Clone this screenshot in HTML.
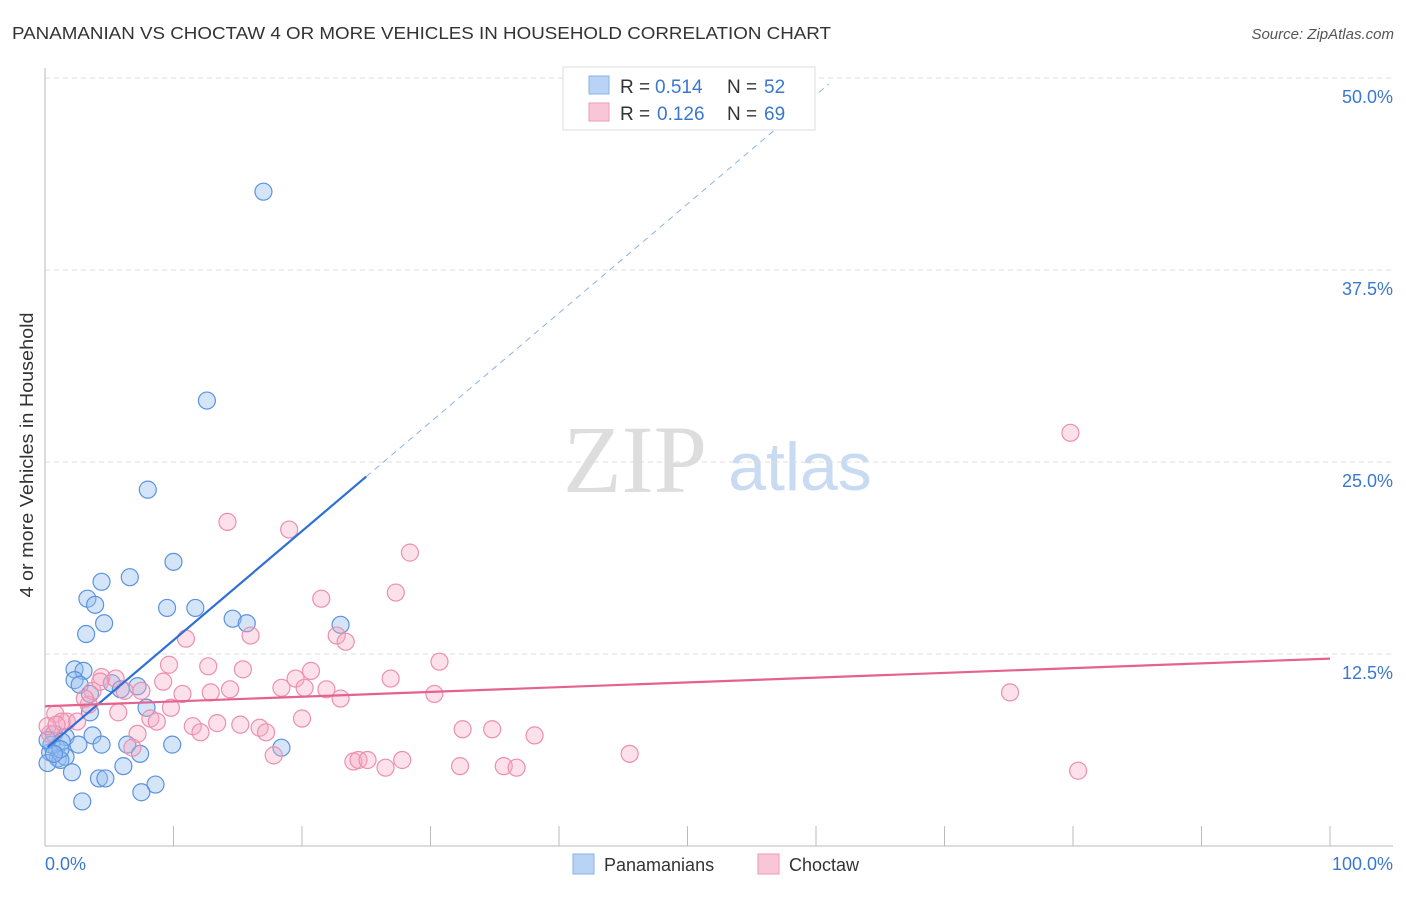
<!DOCTYPE html>
<html><head><meta charset="utf-8"><style>
body{margin:0;background:#fff;font-family:"Liberation Sans",sans-serif}
</style></head><body>
<svg id="c" width="1406" height="892" xmlns="http://www.w3.org/2000/svg" font-family="Liberation Sans, sans-serif">
<text x="12" y="39" font-size="17.5" fill="#333" textLength="819" lengthAdjust="spacingAndGlyphs">PANAMANIAN VS CHOCTAW 4 OR MORE VEHICLES IN HOUSEHOLD CORRELATION CHART</text>
<text x="1394" y="39" font-size="15" fill="#555" font-style="italic" text-anchor="end">Source: ZipAtlas.com</text>
<text x="635" y="492" font-size="96" fill="#ddd" font-family="Liberation Serif, serif" text-anchor="middle">ZIP</text>
<text x="800" y="490" font-size="68" fill="#c9daf3" text-anchor="middle">atlas</text>
<g id="grid"></g><g id="axes"></g><g id="pts"></g><g id="lines"></g>
<text x="33" y="455" font-size="18" fill="#333" text-anchor="middle" textLength="285" lengthAdjust="spacingAndGlyphs" transform="rotate(-90 33 455)">4 or more Vehicles in Household</text>
<text x="45" y="870" font-size="18" fill="#3a78d0">0.0%</text>
<text x="1393" y="870" font-size="18" fill="#3a78d0" text-anchor="end">100.0%</text>
<g>
<rect x="563" y="67" width="252" height="63" fill="#fff" stroke="#ddd"/>
<rect x="589" y="76" width="20" height="18" fill="#b8d3f5" stroke="#8ab2e6"/>
<rect x="589" y="103" width="20" height="18" fill="#f8c6d6" stroke="#ee9ab5"/>
<text x="620" y="93" font-size="19" fill="#333">R =</text><text x="655" y="93" font-size="19" fill="#3a78d0">0.514</text>
<text x="727" y="93" font-size="19" fill="#333">N =</text><text x="764" y="93" font-size="19" fill="#3a78d0">52</text>
<text x="620" y="120" font-size="19" fill="#333">R =</text><text x="657" y="120" font-size="19" fill="#3a78d0">0.126</text>
<text x="727" y="120" font-size="19" fill="#333">N =</text><text x="764" y="120" font-size="19" fill="#3a78d0">69</text>
</g>
<g>
<rect x="573" y="854" width="21" height="20" fill="#b8d3f5" stroke="#8ab2e6"/>
<text x="604" y="871" font-size="18" fill="#333">Panamanians</text>
<rect x="758" y="854" width="21" height="20" fill="#f8c6d6" stroke="#ee9ab5"/>
<text x="789" y="871" font-size="18" fill="#333">Choctaw</text>
</g>
</svg>
<script>
const yTicks=[12.5,25,37.5,50];
const yTickLabels=["12.5%","25.0%","37.5%","50.0%"];
const xTicks=[0,10,20,30,40,50,60,70,80,90,100];
const blueX=[17.0,12.6,8.0,10.0,4.4,6.6,3.3,3.9,9.5,11.7,3.2,4.6,14.6,15.7,23.0,2.3,3.0,2.3,2.7,5.2,5.9,7.2,3.5,7.9,3.5,0.7,1.6,3.7,0.9,2.6,4.4,6.4,9.9,18.4,0.4,1.0,1.6,1.2,6.1,7.4,2.1,4.2,4.7,8.6,7.5,2.9,0.2,0.5,1.3,0.2,1.2,0.7];
const blueY=[42.6,29.0,23.2,18.5,17.2,17.5,16.1,15.7,15.5,15.5,13.8,14.5,14.8,14.5,14.4,11.5,11.4,10.8,10.5,10.6,10.2,10.4,9.9,9.0,8.7,7.3,7.1,7.2,6.4,6.6,6.6,6.6,6.6,6.4,6.1,5.7,5.8,5.6,5.2,6.0,4.8,4.4,4.4,4.0,3.5,2.9,5.4,6.6,6.8,6.9,6.3,6.0];
const pinkX=[79.8,14.2,19.0,28.4,27.3,21.5,10.97,16.0,22.7,23.4,30.7,9.65,12.7,15.4,20.7,19.5,26.9,4.4,5.5,6.2,9.2,7.5,10.7,12.9,14.4,18.4,20.2,21.9,23.0,30.3,75.1,3.4,5.7,9.8,0.8,1.7,1.3,2.5,20.0,8.2,8.7,11.5,13.4,15.2,16.7,17.2,12.1,32.5,34.8,38.1,7.2,6.8,17.8,24.0,24.4,25.1,26.5,27.8,32.3,35.7,36.7,45.5,80.4,0.4,0.2,3.7,4.3,3.1,0.9];
const pinkY=[26.9,21.1,20.6,19.1,16.5,16.1,13.5,13.7,13.7,13.3,12.0,11.8,11.7,11.5,11.4,10.9,10.9,11.0,10.9,10.1,10.7,10.1,9.9,10.0,10.2,10.3,10.3,10.2,9.6,9.9,10.0,9.2,8.7,9.0,8.6,8.1,8.1,8.1,8.3,8.3,8.1,7.8,8.0,7.9,7.7,7.4,7.4,7.6,7.6,7.2,7.3,6.4,5.9,5.5,5.6,5.6,5.1,5.6,5.2,5.2,5.1,6.0,4.9,7.3,7.8,10.1,10.7,9.6,7.9];
const X=v=>45+v*12.85, Y=v=>846-v*15.36;
const NS="http://www.w3.org/2000/svg";
function mk(p,t,a){const e=document.createElementNS(NS,t);for(const k in a)e.setAttribute(k,a[k]);document.getElementById(p).appendChild(e);return e;}
yTicks.forEach((t,i)=>{
 const g=mk('grid','line',{x1:45,x2:1393,y1:Y(t),y2:Y(t),stroke:'#ddd','stroke-dasharray':'5,4'});
 
 
 const l=mk('grid','text',{x:1393,y:Y(t)+25,'font-size':18,fill:'#3a78d0','text-anchor':'end'});
 l.textContent=yTickLabels[i];
 
 
});
const ax=mk('axes','line',{x1:45,x2:1393,y1:846,y2:846,stroke:'#bbb'});


const ay=mk('axes','line',{x1:45,x2:45,y1:68,y2:846,stroke:'#bbb'});


xTicks.forEach(t=>{
 const e=mk('axes','line',{x1:X(t),x2:X(t),y1:826,y2:846,stroke:'#bbb'});
 
 
});
blueX.forEach((v,i)=>{
 const c=mk('pts','circle',{cx:X(v),cy:Y(blueY[i]),r:8.5,fill:'rgba(150,190,240,0.4)',stroke:'#5b93dd','stroke-width':1.2});
 
 
});
pinkX.forEach((v,i)=>{
 const c=mk('pts','circle',{cx:X(v),cy:Y(pinkY[i]),r:8.5,fill:'rgba(245,170,195,0.35)',stroke:'#ec8fae','stroke-width':1.2});
 
 
});
const blueTrend=[6.3,0.71], pinkTrend=[9.1,0.031];
const bs=mk('lines','line',{x1:X(0.2),y1:Y(blueTrend[0]+blueTrend[1]*0.2),x2:X(25),y2:Y(blueTrend[0]+blueTrend[1]*25),stroke:'#2e6fd6','stroke-width':2.2});


const bd=mk('lines','line',{x1:X(25),y1:Y(blueTrend[0]+blueTrend[1]*25),x2:X(61),y2:Y(blueTrend[0]+blueTrend[1]*61),stroke:'#8ab2e6','stroke-width':1,'stroke-dasharray':'6,5'});


const pl=mk('lines','line',{x1:X(0),y1:Y(pinkTrend[0]),x2:X(100),y2:Y(pinkTrend[0]+pinkTrend[1]*100),stroke:'#e5628e','stroke-width':2.2});


</script>
</body></html>
